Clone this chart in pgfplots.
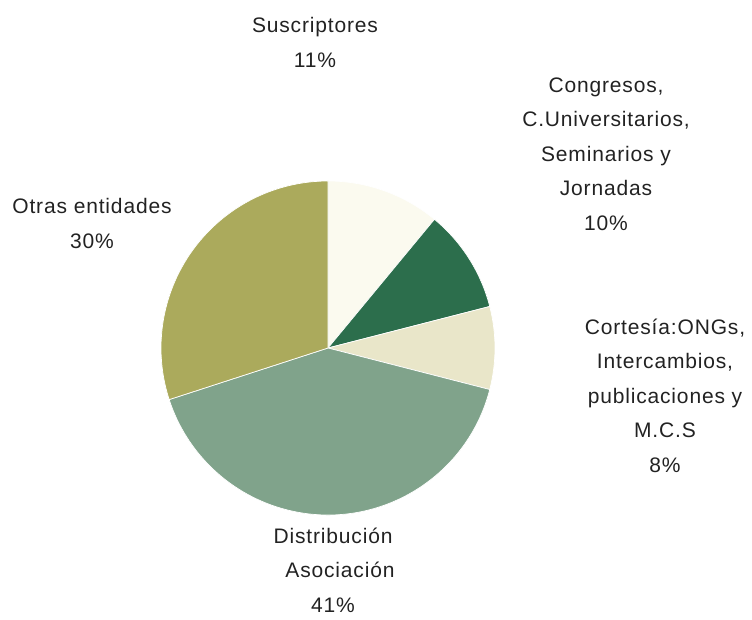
\documentclass[border=0pt]{standalone}
\usepackage{pgfplots}
\pgfplotsset{compat=1.18}
\usepackage{pgfplotstable}
\usepackage{fontspec}
\setmainfont{Liberation Sans}[LetterSpace=4]

\definecolor{cSus}{HTML}{FBFAEF}
\definecolor{cCon}{HTML}{2C6E4C}
\definecolor{cCor}{HTML}{E9E6C9}
\definecolor{cDis}{HTML}{80A38B}
\definecolor{cOtr}{HTML}{ABAA5C}
\definecolor{txt}{HTML}{222222}

% share of each group, clockwise from 12 o'clock
\pgfplotstableread[col sep=comma]{
grupo,pct,col
Suscriptores,11,cSus
Congresos,10,cCon
Cortesia,8,cCor
Distribucion,41,cDis
Otras,30,cOtr
}\piedata

\begin{document}
\begin{tikzpicture}
\begin{axis}[
    width=752pt, height=620pt, scale only axis,
    xmin=0, xmax=752, ymin=-620, ymax=0,
    hide axis, clip=false,
  ]
  \def\angstart{90}
  \pgfplotsforeachungrouped \i in {0,...,4}{%
    \pgfplotstablegetelem{\i}{pct}\of\piedata \let\pct\pgfplotsretval
    \pgfplotstablegetelem{\i}{col}\of\piedata \let\col\pgfplotsretval
    \pgfmathsetmacro\angend{\angstart-3.6*\pct}
    \edef\slice{\noexpand\fill[\col, draw=white, line width=0.7pt]
      (axis cs:328,-348) -- ++(\angstart:167pt)
      arc[start angle=\angstart, end angle=\angend, radius=167pt] -- cycle;}
    \slice
    \let\angstart\angend
  }

  \tikzset{lbl/.style={align=center, text=txt, inner sep=0pt,
      font=\fontsize{21}{34.5}\selectfont}}
  \node[lbl] at (axis cs:315,-42.5) {Suscriptores\\11\%};
  \node[lbl] at (axis cs:606,-154) {Congresos,\\C.Universitarios,\\Seminarios y\\Jornadas\\10\%};
  \node[lbl] at (axis cs:665,-395.5) {Cortesía:ONGs,\\Intercambios,\\publicaciones y\\M.C.S\\8\%};
  \node[lbl] at (axis cs:333,-570) {Distribución\\\hspace*{14pt}Asociación\\41\%};
  \node[lbl] at (axis cs:92,-223.5) {Otras entidades\\30\%};
\end{axis}
\pgfresetboundingbox
\path (current axis.south west) rectangle (current axis.north east);
\end{tikzpicture}
\end{document}
